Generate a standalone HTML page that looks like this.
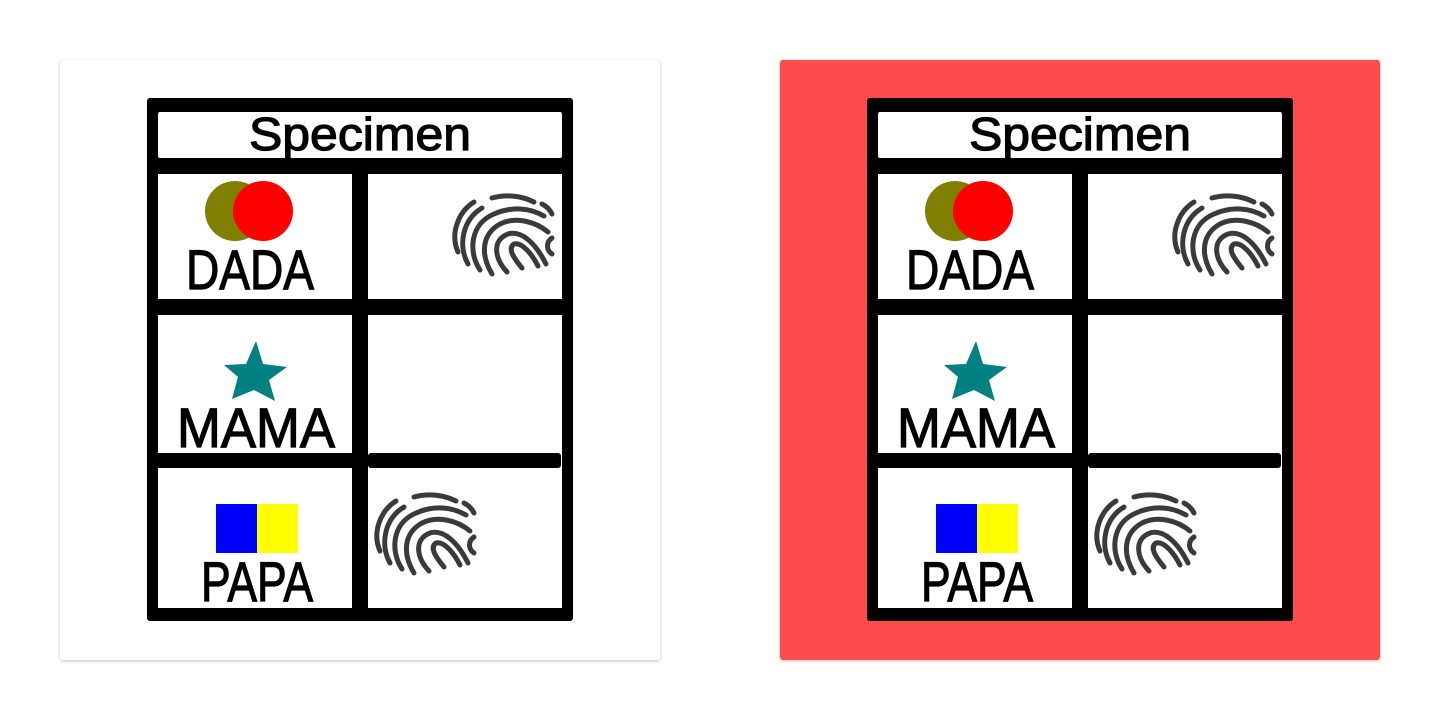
<!DOCTYPE html>
<html><head><meta charset="utf-8"><style>
html,body{margin:0;padding:0;background:#fff;width:1440px;height:720px;overflow:hidden}
svg{display:block}
text{font-family:"Liberation Sans","DejaVu Sans",sans-serif;fill:#000;stroke:#000;stroke-width:1.2}
</style></head><body>
<svg width="1440" height="720" viewBox="0 0 1440 720">
<defs>
<filter id="sh" x="-5%" y="-5%" width="110%" height="110%"><feDropShadow dx="0" dy="1" stdDeviation="1.5" flood-color="#000" flood-opacity="0.25"/></filter>
<g id="fp" fill="none" stroke="#3a3a3a" stroke-width="5" stroke-linecap="round">
<path d="M6,58 C-2,40 6,18 22,8"/>
<path d="M16,70 C6,52 10,26 30,14"/>
<path d="M40,4 C55,0 70,2 82,8"/>
<path d="M28,76 C16,58 18,30 42,20 C60,12 78,14 92,22"/>
<path d="M40,80 C28,60 30,40 48,30 C64,22 84,28 96,38"/>
<path d="M55,78 C42,64 40,46 56,40 C70,36 84,50 94,70"/>
<path d="M70,74 C60,62 56,54 62,50 C70,48 80,60 86,72"/>
<path d="M100,44 C94,48 94,56 100,60"/>
<path d="M90,10 C94,12 98,16 100,20"/>
</g>
<g id="sheet">
<rect x="147" y="98" width="426" height="523" rx="3" fill="#000"/>
<rect x="158" y="112" width="404" height="46" rx="2" fill="#fff"/>
<rect x="158" y="174" width="194" height="125" fill="#fff"/>
<rect x="368" y="174" width="194" height="125" fill="#fff"/>
<rect x="158" y="315" width="194" height="138" fill="#fff"/>
<rect x="368" y="315" width="194" height="154" fill="#fff"/>
<rect x="368" y="453" width="193" height="15" rx="3" fill="#000"/>
<rect x="158" y="468" width="194" height="140" fill="#fff"/>
<rect x="368" y="468" width="194" height="140" fill="#fff"/>
</g>
</defs>

<rect x="60" y="60" width="600" height="600" rx="3" fill="#fff" filter="url(#sh)"/>
<rect x="780" y="60" width="600" height="600" rx="3" fill="#ff4b4b" filter="url(#sh)"/>

<g>
<use href="#sheet"/>
<text x="360" y="150" font-size="46" text-anchor="middle" textLength="222" lengthAdjust="spacingAndGlyphs">Specimen</text>
<circle cx="235" cy="211" r="30" fill="#808000"/>
<circle cx="263" cy="211" r="30" fill="#ff0000"/>
<text x="250" y="289" font-size="56" text-anchor="middle" textLength="128" lengthAdjust="spacingAndGlyphs">DADA</text>
<use href="#fp" x="452" y="194"/>
<polygon points="256,341 263,364 287,367 269,380 275,401 254,390 232,399 238,377 224,365 246,364" fill="#008080"/>
<text x="256" y="447" font-size="56" text-anchor="middle" textLength="158" lengthAdjust="spacingAndGlyphs">MAMA</text>
<rect x="216" y="504" width="41" height="49" fill="#0000ff"/>
<rect x="257" y="504" width="41" height="49" fill="#ffff00"/>
<text x="257" y="601" font-size="56" text-anchor="middle" textLength="112" lengthAdjust="spacingAndGlyphs">PAPA</text>
<use href="#fp" x="374" y="493"/>
</g>

<g transform="translate(720,0)">
<use href="#sheet"/>
<text x="360" y="150" font-size="46" text-anchor="middle" textLength="222" lengthAdjust="spacingAndGlyphs">Specimen</text>
<circle cx="235" cy="211" r="30" fill="#808000"/>
<circle cx="263" cy="211" r="30" fill="#ff0000"/>
<text x="250" y="289" font-size="56" text-anchor="middle" textLength="128" lengthAdjust="spacingAndGlyphs">DADA</text>
<use href="#fp" x="452" y="194"/>
<polygon points="256,341 263,364 287,367 269,380 275,401 254,390 232,399 238,377 224,365 246,364" fill="#008080"/>
<text x="256" y="447" font-size="56" text-anchor="middle" textLength="158" lengthAdjust="spacingAndGlyphs">MAMA</text>
<rect x="216" y="504" width="41" height="49" fill="#0000ff"/>
<rect x="257" y="504" width="41" height="49" fill="#ffff00"/>
<text x="257" y="601" font-size="56" text-anchor="middle" textLength="112" lengthAdjust="spacingAndGlyphs">PAPA</text>
<use href="#fp" x="374" y="493"/>
</g>
</svg>
</body></html>
